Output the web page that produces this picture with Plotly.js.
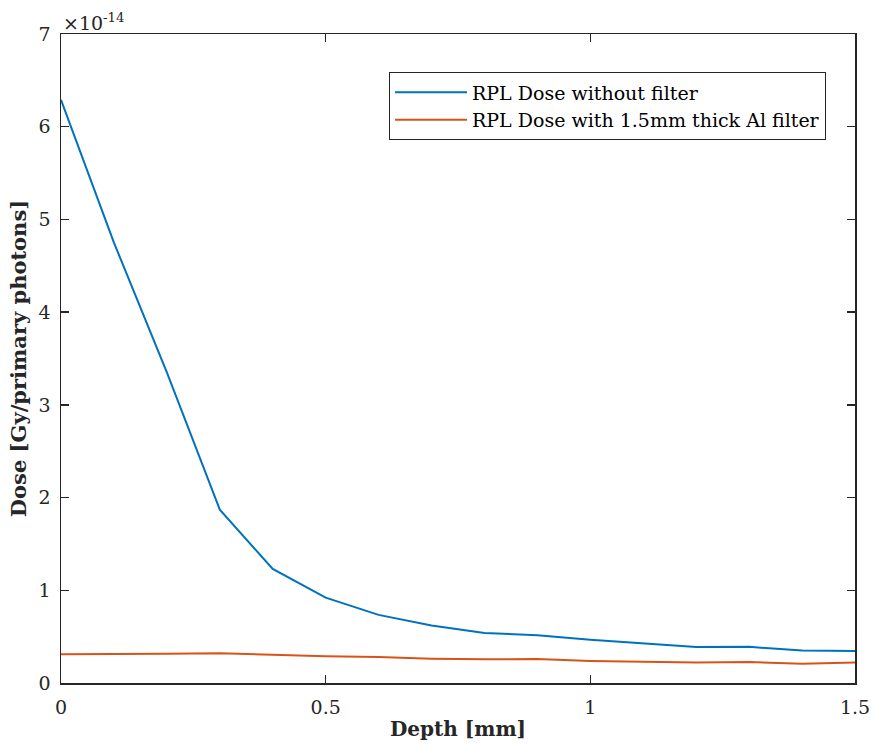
<!DOCTYPE html>
<html>
<head>
<meta charset="utf-8">
<script src="https://cdn.plot.ly/plotly-3.0.1.min.js"></script>
<style>html,body{margin:0;padding:0;background:#fff;}#chart{width:871px;height:744px;}</style>
</head>
<body>
<div id="chart"></div>
<script>
// Depth in mm
const depth = [0, 0.1, 0.2, 0.3, 0.4, 0.5, 0.6, 0.7, 0.8, 0.9, 1.0, 1.1, 1.2, 1.3, 1.4, 1.5];
// Dose values in units of 1e-14 Gy/primary photon
const doseNoFilter = [6.29, 4.75, 3.35, 1.87, 1.23, 0.92, 0.735, 0.62, 0.54, 0.515, 0.467, 0.43, 0.387, 0.39, 0.35, 0.344];
const doseAlFilter = [0.31, 0.31, 0.315, 0.32, 0.30, 0.288, 0.28, 0.262, 0.255, 0.258, 0.237, 0.23, 0.22, 0.226, 0.208, 0.222];
const seriesNames = ["RPL Dose without filter", "RPL Dose with 1.5mm thick Al filter"];
const yTicks = [0, 1, 2, 3, 4, 5, 6, 7];
const xTicks = [0, 0.5, 1, 1.5];
const xTickText = ["0", "0.5", "1", "1.5"];

const FONT = "DejaVu Serif, Georgia, serif";
const AX = "#262626";

const traces = [
  {x: depth, y: doseNoFilter, name: seriesNames[0], type: "scatter", mode: "lines",
   line: {color: "#0072BD", width: 2}},
  {x: depth, y: doseAlFilter, name: seriesNames[1], type: "scatter", mode: "lines",
   line: {color: "#D95319", width: 2}}
];

const layout = {
  width: 871, height: 744,
  margin: {l: 61, r: 16, t: 34, b: 61},
  paper_bgcolor: "#fff", plot_bgcolor: "#fff",
  font: {family: FONT, color: AX, size: 19},
  showlegend: true,
  legend: {
    x: 0.9635, y: 0.941, xanchor: "right", yanchor: "top",
    bgcolor: "#fff", bordercolor: AX, borderwidth: 1,
    font: {family: FONT, size: 19, color: "#000"},
    itemwidth: 72,
    tracegroupgap: 0
  },
  xaxis: {
    range: [0, 1.5], tickvals: xTicks, ticktext: xTickText,
    ticks: "inside", ticklen: 8, tickwidth: 1.5, tickcolor: AX,
    showline: true, linecolor: AX, linewidth: 1.5, mirror: "ticks",
    showgrid: false, zeroline: false, ticklabelstandoff: 7,
    tickfont: {family: FONT, size: 19, color: AX},
    title: {text: "<b>Depth [mm]</b>", font: {family: FONT, size: 20, color: AX}, standoff: 4}
  },
  yaxis: {
    range: [0, 7], tickvals: yTicks,
    ticks: "inside", ticklen: 8, tickwidth: 1.5, tickcolor: AX,
    showline: true, linecolor: AX, linewidth: 1.5, mirror: "ticks",
    showgrid: false, zeroline: false, ticklabelstandoff: 5,
    tickfont: {family: FONT, size: 19, color: AX},
    title: {text: "<b>Dose [Gy/primary photons]</b>", font: {family: FONT, size: 21, color: AX}, standoff: 6}
  },
  annotations: [{
    xref: "paper", yref: "paper", x: 0, y: 1, xanchor: "left", yanchor: "bottom",
    text: "×10<sup>-14</sup>", showarrow: false, yshift: -2,
    font: {family: FONT, size: 19, color: AX}
  }]
};

Plotly.newPlot("chart", traces, layout, {displayModeBar: false, staticPlot: true});
</script>
</body>
</html>
